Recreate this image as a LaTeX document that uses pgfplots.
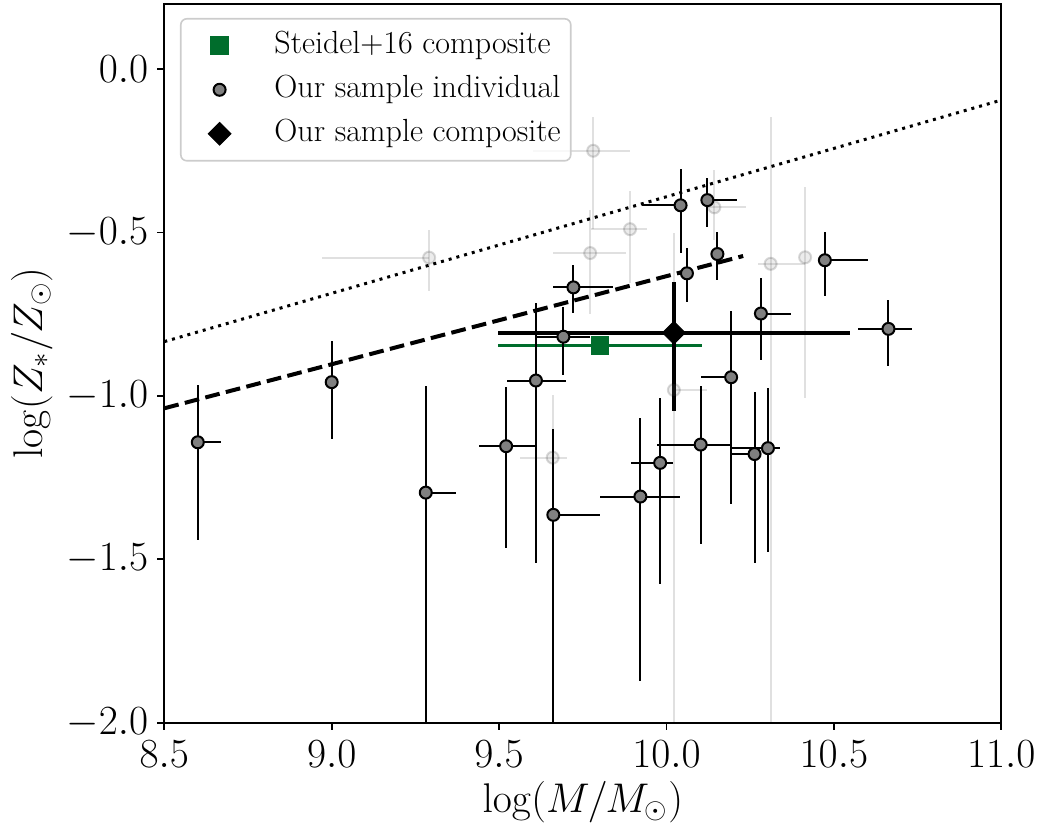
\documentclass[border=0pt]{standalone}
\usepackage{pgfplots}
\pgfplotsset{compat=1.18}
\usepackage{pgfplotstable}

\definecolor{steidelgreen}{HTML}{006D2C}

% legend handle: a single mark centred in a 32pt cell
\pgfplotsset{markhandle/.style={legend image code/.code={%
  \path (0pt,0pt) (32pt,0pt);
  \draw[mark repeat=2,mark phase=2,fill opacity=1,draw opacity=1,##1] plot coordinates {(0pt,0pt) (16pt,0pt) (32pt,0pt)};}}}

% individual galaxies: mass, metallicity and asymmetric errors
\pgfplotstableread{
x       y       exm    exp    eym    eyp
8.600  -1.142  0.000  0.069  0.299  0.175
9.000  -0.958  0.000  0.000  0.175  0.126
9.281  -1.296  0.000  0.089  0.750  0.327
9.521  -1.154  0.080  0.089  0.312  0.182
9.610  -0.953  0.087  0.090  0.557  0.236
9.692  -0.819  0.080  0.080  0.117  0.092
9.722  -0.668  0.060  0.119  0.079  0.069
9.662  -1.364  0.000  0.139  0.700  0.262
10.042 -0.417  0.116  0.000  0.145  0.110
10.122 -0.401  0.000  0.089  0.081  0.069
10.152 -0.566  0.000  0.000  0.079  0.067
10.061 -0.625  0.000  0.000  0.089  0.077
10.282 -0.748  0.000  0.089  0.142  0.108
10.473 -0.585  0.000  0.130  0.108  0.087
10.663 -0.795  0.090  0.069  0.113  0.088
10.193 -0.943  0.090  0.000  0.389  0.203
9.922  -1.308  0.121  0.118  0.564  0.239
9.981  -1.205  0.088  0.039  0.372  0.200
10.102 -1.149  0.130  0.089  0.305  0.179
10.263 -1.178  0.070  0.010  0.334  0.189
10.303 -1.160  0.110  0.037  0.317  0.183
}\indiv

% galaxies left out of the composite
\pgfplotstableread{
x       y       exm    exp    eym    eyp
9.291  -0.577  0.319  0.000  0.102  0.085
9.781  -0.250  0.179  0.110  0.240  0.103
9.891  -0.490  0.117  0.050  0.165  0.117
9.772  -0.563  0.110  0.107  0.187  0.132
10.143 -0.423  0.025  0.095  0.100  0.114
10.311 -0.596  0.037  0.103  1.500  0.450
10.414 -0.576  0.000  0.000  0.431  0.216
10.022 -0.982  0.000  0.098  1.100  0.480
9.660  -1.189  0.098  0.042  0.150  0.192
}\excluded

% stacked spectra
\pgfplotstableread{
x       y       exm    exp    eym    eyp
10.022 -0.807  0.526  0.526  0.239  0.155
}\ourcomp
\pgfplotstableread{
x       y       exm    exp    eym    eyp
9.801  -0.846  0.305  0.305  0.000  0.000
}\steidel

\begin{document}
\begin{tikzpicture}
\begin{axis}[
  scale only axis,
  width=418.5pt, height=359.5pt,
  xmin=8.5, xmax=11.0, ymin=-2.0, ymax=0.2,
  xtick={8.5,9.0,9.5,10.0,10.5,11.0},
  ytick={-2.0,-1.5,-1.0,-0.5,0.0},
  minor tick num=0,
  tick pos=left,
  tick align=outside,
  major tick length=3.5pt,
  every tick/.style={black, line width=0.9pt},
  axis line style={line width=0.9pt},
  tick label style={font=\fontsize{20.74}{24}\selectfont},
  xticklabel style={yshift=-2pt, /pgf/number format/fixed, /pgf/number format/fixed zerofill, /pgf/number format/precision=1},
  yticklabel style={xshift=-1pt, /pgf/number format/fixed, /pgf/number format/fixed zerofill, /pgf/number format/precision=1},
  xlabel={$\log(M/M_{\odot})$},
  ylabel={$\log(Z_{*}/Z_{\odot})$},
  every axis x label/.style={at={(axis description cs:0.5,-0.1102)}, anchor=center, font=\fontsize{20.74}{24}\selectfont},
  every axis y label/.style={at={(axis description cs:-0.1584,0.5)}, anchor=center, rotate=90, font=\fontsize{20.74}{24}\selectfont},
  legend cell align=left,
  legend style={at={(0,1)}, anchor=north west, xshift=7.85pt, yshift=-7.15pt,
    draw=black!20, line width=0.8pt, rounded corners=3pt,
    fill=white, fill opacity=0.8, text opacity=1,
    font=\fontsize{16}{19}\selectfont,
    inner xsep=3pt, inner ysep=4.5pt, row sep=4pt, column sep=9pt,
    nodes={inner sep=2pt, text height=11pt, text depth=3pt}},
]

% reference relations
\addplot[black, line width=2pt, dash pattern=on 7.4pt off 3.2pt, forget plot]
  coordinates {(8.5,-1.038) (10.229,-0.572)};
\addplot[black, line width=1.5pt, dash pattern=on 1.5pt off 2.5pt, forget plot]
  coordinates {(8.5,-0.834) (11.0,-0.095)};

% excluded galaxies
\addplot[forget plot, only marks, mark=*, mark size=3pt,
  mark options={draw=black, fill=gray, line width=1pt, opacity=0.15},
  error bars/.cd, x dir=both, x explicit, y dir=both, y explicit, error mark=none,
  error bar style={line width=1pt, black, opacity=0.12}]
  table[x=x, y=y, x error minus=exm, x error plus=exp, y error minus=eym, y error plus=eyp]{\excluded};

% Steidel+16 composite
\addplot[forget plot, only marks, mark=square*, mark size=4.4pt,
  mark options={draw=steidelgreen, fill=steidelgreen, line width=0.5pt},
  error bars/.cd, x dir=both, x explicit, error mark=none,
  error bar style={line width=1.6pt, steidelgreen}]
  table[x=x, y=y, x error minus=exm, x error plus=exp]{\steidel};

% our composite
\addplot[forget plot, only marks, mark=square*, mark size=4pt,
  mark options={draw=black, fill=black, rotate=45, line width=0.5pt},
  error bars/.cd, x dir=both, x explicit, y dir=both, y explicit, error mark=none,
  error bar style={line width=2pt, black}]
  table[x=x, y=y, x error minus=exm, x error plus=exp, y error minus=eym, y error plus=eyp]{\ourcomp};

% individual galaxies
\addplot[forget plot, only marks, mark=*, mark size=3pt,
  mark options={draw=black, fill=gray, line width=1pt},
  error bars/.cd, x dir=both, x explicit, y dir=both, y explicit, error mark=none,
  error bar style={line width=1pt, black}]
  table[x=x, y=y, x error minus=exm, x error plus=exp, y error minus=eym, y error plus=eyp]{\indiv};

% legend entries
\addlegendimage{only marks, mark=square*, mark size=4.4pt,
  mark options={draw=steidelgreen, fill=steidelgreen, line width=0.5pt}, markhandle}
\addlegendentry{Steidel+16 composite}
\addlegendimage{only marks, mark=*, mark size=3pt,
  mark options={draw=black, fill=gray, line width=1pt}, markhandle}
\addlegendentry{Our sample individual}
\addlegendimage{only marks, mark=square*, mark size=4pt,
  mark options={draw=black, fill=black, rotate=45, line width=0.5pt}, markhandle}
\addlegendentry{Our sample composite}
\end{axis}
\pgfresetboundingbox
\path[use as bounding box] ([xshift=-82.15pt,yshift=-52.15pt]current axis.south west) rectangle ([xshift=19.85pt,yshift=1.85pt]current axis.north east);
\end{tikzpicture}
\end{document}
